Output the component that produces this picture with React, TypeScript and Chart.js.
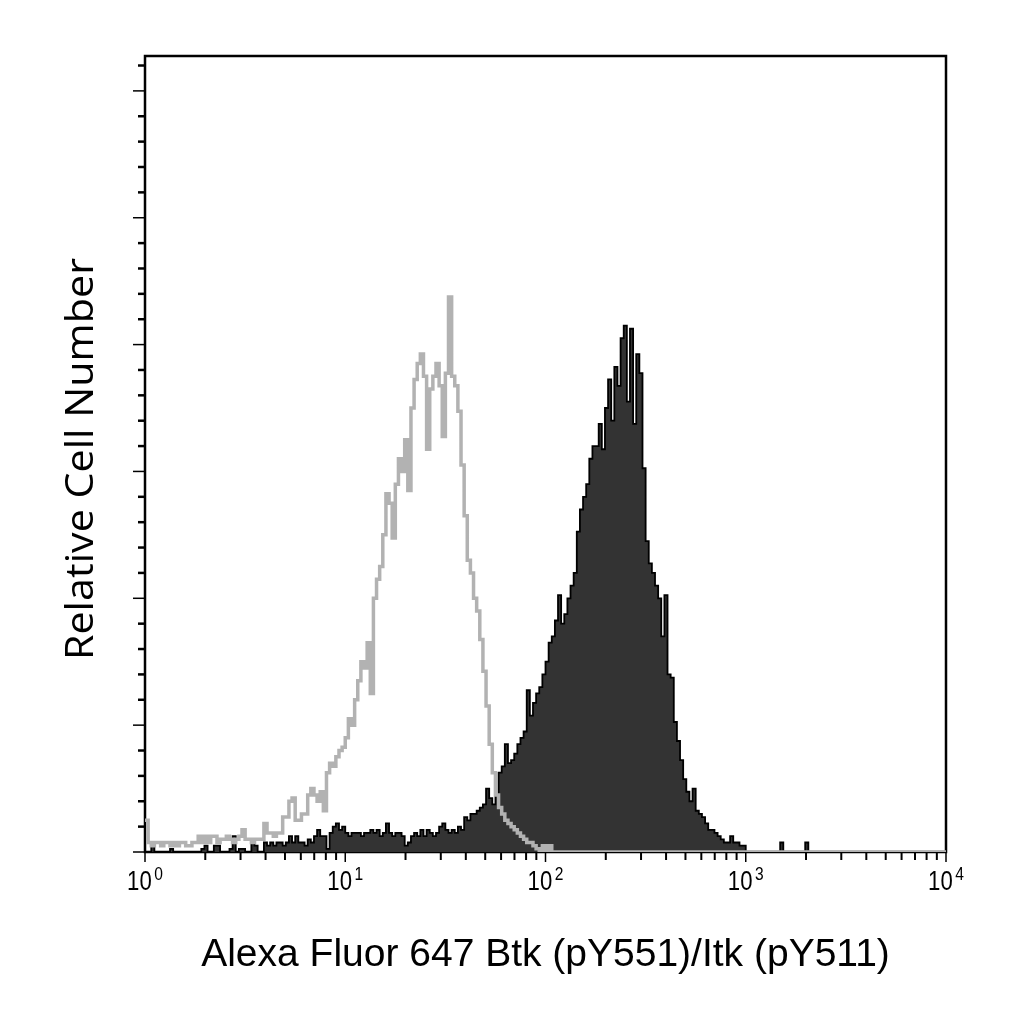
import React, { useEffect, useRef } from 'react';
import { Chart, registerables } from 'chart.js';

Chart.register(...registerables);

// ---- axis definitions ----
const CHANNELS_PER_DECADE = 64;
const X_MIN = 1;
const X_MAX = 10000;
const X_DECADES = [0, 1, 2, 3, 4];
const X_MINOR_MULTIPLIERS = [2, 3, 4, 5, 6, 7, 8, 9];
const Y_MIN = 0;
const Y_MAX = 251;
const Y_MAJOR_STEP = 40;
const Y_MINOR_STEP = 8;

const X_TITLE = 'Alexa Fluor 647 Btk (pY551)/Itk (pY511)';
const Y_TITLE = 'Relative Cell Number';

// ---- histogram counts per channel (channel 0 starts at 10^0) ----
// grey outline: unstained / isotype control
const controlCounts = [
  10, 3,
  2, 3, 3, 2, 3, 3, 2, 3, 2, 3, 3, 2, 2, 3, 3,
  5, 3, 5, 3, 5, 5, 3, 4,
  4, 5, 4, 3, 4, 5, 7,
  4, 4, 3, 4, 4, 4,
  9,
  6, 6, 5, 6, 6,
  11, 11, 16, 17, 10, 10, 12, 12, 18, 20, 18, 16, 19, 13,
  25, 28, 27, 30, 32, 33, 36, 42, 40, 48, 54, 60, 58,
  66, 50, 80, 86, 90, 100, 113, 110, 99, 116, 124, 120, 130, 114, 140, 149, 154,
  157, 150, 127, 146, 150, 154, 147, 131, 151, 175, 150, 147, 139, 122, 106, 92,
  88, 80, 76, 67, 57, 46, 34, 25, 18, 14, 12, 10, 9, 8, 7, 6,
  5, 4, 3, 3, 2, 1, 0, 2, 0, 2, 0,
];

// black filled: Btk (pY551)/Itk (pY511) stained
const stainedCounts = [
  0, 0, 2, 0, 0, 0, 0, 0, 1, 0, 0, 0, 0, 0, 0, 0, 0, 0, 1, 2,
  0, 0, 2, 2, 0, 0, 0, 1, 5, 0, 1, 1, 0, 0, 3, 2, 0, 0,
  3, 2, 3, 2, 3, 3, 2, 3, 5, 3, 5, 3, 3, 2, 4, 3, 5, 7, 5, 5,
  1, 6, 8, 9, 7, 8, 6, 5, 6, 6, 6, 5, 6, 6, 7, 6, 7, 5, 6, 9,
  6, 5, 6, 6, 5, 2, 3, 5, 6, 5, 7, 5, 7, 6, 5, 6, 8, 9, 7, 6,
  7, 6, 8, 7, 11, 10, 12, 12, 13, 14, 15, 20, 17, 15, 18, 25, 27, 34, 28, 29,
  31, 34, 36, 38, 51, 43, 47, 50, 52, 56, 60, 66, 68, 73, 81, 72, 75, 80, 84, 88,
  101, 108, 112, 116, 124, 128, 128, 135, 127, 140, 149, 136, 153, 147, 162, 166, 142, 165, 135, 157,
  151, 121, 98, 91, 88, 84, 80, 68, 81, 56, 55, 41, 35, 29, 23, 19, 16, 20, 13, 12,
  11, 9, 7, 7, 6, 5, 4, 3, 3, 5, 3, 3, 2, 2,
  0, 0, 0, 0, 0, 0, 0, 0, 0, 0, 0, 3, 0, 0, 0, 0, 0, 0, 0, 3, 0,
];

function toPoints(counts: number[]) {
  const pts = counts.map((y, c) => ({ x: Math.pow(10, c / CHANNELS_PER_DECADE), y }));
  pts.push({ x: X_MAX, y: 0 });
  return pts;
}

const axesPlugin = {
  id: 'flowAxes',
  beforeDatasetsDraw(chart: any) {
    const { ctx, chartArea: a } = chart;
    ctx.save();
    ctx.strokeStyle = '#000';
    ctx.lineWidth = 2.5;
    ctx.strokeRect(a.left, a.top, a.right - a.left, a.bottom - a.top);
    ctx.restore();
  },
  afterDraw(chart: any) {
    const { ctx, chartArea: a, scales } = chart;
    const xs = scales.x;
    const ys = scales.y;
    ctx.save();
    ctx.strokeStyle = '#000';
    ctx.fillStyle = '#000';
    ctx.lineCap = 'butt';

    // y ticks (outside, left)
    for (let v = Y_MIN; v <= Y_MAX; v += Y_MINOR_STEP) {
      const y = ys.getPixelForValue(v);
      const major = v % Y_MAJOR_STEP === 0;
      ctx.lineWidth = major ? 1.5 : 2.5;
      ctx.beginPath();
      ctx.moveTo(a.left, y);
      ctx.lineTo(a.left - (major ? 12 : 7), y);
      ctx.stroke();
    }

    // x ticks (outside, bottom)
    for (const d of X_DECADES) {
      const base = Math.pow(10, d);
      const x = xs.getPixelForValue(base);
      ctx.lineWidth = 1.5;
      ctx.beginPath();
      ctx.moveTo(x, a.bottom);
      ctx.lineTo(x, a.bottom + 10);
      ctx.stroke();
      if (d < X_DECADES[X_DECADES.length - 1]) {
        for (const m of X_MINOR_MULTIPLIERS) {
          const xm = xs.getPixelForValue(m * base);
          ctx.lineWidth = 2;
          ctx.beginPath();
          ctx.moveTo(xm, a.bottom);
          ctx.lineTo(xm, a.bottom + 8);
          ctx.stroke();
        }
      }
    }

    // x tick labels 10^n
    const LABEL_FONT = '27px "Liberation Sans", Arial, sans-serif';
    const EXP_FONT = '19px "Liberation Sans", Arial, sans-serif';
    const sx = 0.82;
    const gap = 3;
    for (const d of X_DECADES) {
      const x = xs.getPixelForValue(Math.pow(10, d));
      ctx.font = LABEL_FONT;
      const w1 = ctx.measureText('10').width;
      ctx.font = EXP_FONT;
      const w2 = ctx.measureText(String(d)).width;
      const total = (w1 + gap + w2) * sx;
      ctx.save();
      ctx.translate(x - total / 2, a.bottom + 38);
      ctx.scale(sx, 1);
      ctx.textAlign = 'left';
      ctx.textBaseline = 'alphabetic';
      ctx.font = LABEL_FONT;
      ctx.fillText('10', 0, 0);
      ctx.font = EXP_FONT;
      ctx.fillText(String(d), w1 + gap, -10);
      ctx.restore();
    }

    // x title
    ctx.font = '39px "Liberation Sans", Arial, sans-serif';
    ctx.textAlign = 'center';
    ctx.textBaseline = 'alphabetic';
    ctx.fillText(X_TITLE, (a.left + a.right) / 2, 966);

    // y title (rotated)
    ctx.save();
    ctx.font = '39px "Open Sans", "Noto Sans", sans-serif';
    const tw = ctx.measureText(Y_TITLE).width;
    const targetLen = 402;
    ctx.translate(93, 459);
    ctx.rotate(-Math.PI / 2);
    ctx.scale(targetLen / tw, 1);
    ctx.textAlign = 'center';
    ctx.textBaseline = 'alphabetic';
    ctx.fillText(Y_TITLE, 0, 0);
    ctx.restore();

    ctx.restore();
  },
};

export default function App() {
  const ref = useRef<HTMLCanvasElement | null>(null);

  useEffect(() => {
    if (!ref.current) return;
    const chart = new Chart(ref.current, {
      type: 'line',
      data: {
        datasets: [
          {
            label: 'Control',
            data: toPoints(controlCounts),
            stepped: 'before',
            borderColor: '#b2b2b2',
            borderWidth: 3.5,
            pointRadius: 0,
            fill: false,
            order: 0,
          },
          {
            label: 'Btk (pY551)/Itk (pY511)',
            data: toPoints(stainedCounts),
            stepped: 'before',
            borderColor: '#000000',
            borderWidth: 1.8,
            backgroundColor: '#333333',
            fill: 'origin',
            pointRadius: 0,
            order: 1,
          },
        ],
      },
      options: {
        responsive: false,
        animation: false,
        devicePixelRatio: 1,
        layout: { padding: { left: 145, right: 78, top: 56, bottom: 172 } },
        scales: {
          x: { type: 'logarithmic', min: X_MIN, max: X_MAX, display: false },
          y: { type: 'linear', min: Y_MIN, max: Y_MAX, display: false },
        },
        plugins: {
          legend: { display: false },
          tooltip: { enabled: false },
        },
      },
      plugins: [axesPlugin],
    } as any);
    return () => chart.destroy();
  }, []);

  return (
    <div style={{ position: 'absolute', left: 0, top: 0, width: 1024, height: 1024, background: '#fff' }}>
      <canvas ref={ref} width={1024} height={1024} style={{ width: 1024, height: 1024, display: 'block' }} />
    </div>
  );
}
